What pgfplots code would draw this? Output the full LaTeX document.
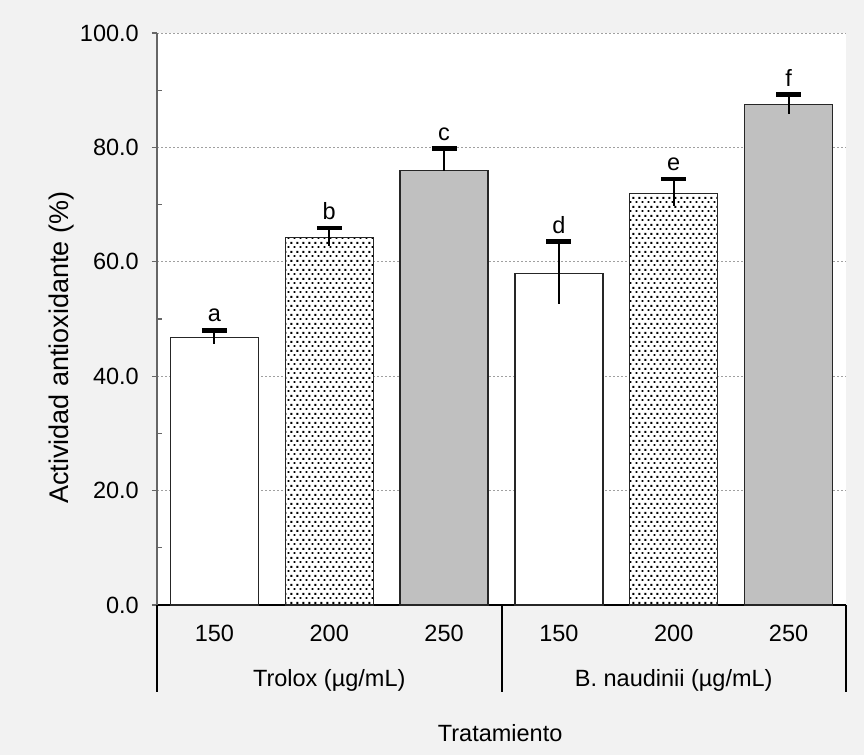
\documentclass[border=0pt]{standalone}
\usepackage{fontspec}
\setmainfont{Liberation Sans}
\usepackage{pgfplots}
\usepackage{pgfplotstable}
\pgfplotsset{compat=1.18}
\usetikzlibrary{patterns.meta}
\definecolor{bgc}{HTML}{F2F2F2}
\definecolor{barg}{HTML}{C0C0C0}
\definecolor{gridc}{HTML}{A0A0A0}
\newcommand\fs{\fontsize{23.5}{28}\selectfont}
\tikzdeclarepattern{
  name=sdots,
  type=uncolored,
  bottom left={(0pt,0pt)},
  top right={(6.4pt,8.6pt)},
  tile size={(6.4pt,8.6pt)},
  code={
    \fill (0.6pt,1.1pt) rectangle (2.6pt,3.1pt);
    \fill (3.8pt,5.4pt) rectangle (5.8pt,7.4pt);
  }
}
\pgfplotstableread{
x y ep em
0 46.7 1.3 1.0
1 64.2 1.7 1.4
2 75.9 3.9 0.0
3 58.0 5.5 5.4
4 72.0 2.5 2.2
5 87.5 1.7 1.7
}\data
\begin{document}
\begin{tikzpicture}
\useasboundingbox (0,0) rectangle (864pt,755pt);
\fill[bgc] (0,0) rectangle (864pt,755pt);
\begin{axis}[
  at={(157pt,150pt)}, anchor=south west,
  scale only axis, width=689pt, height=572pt,
  xmin=-0.5, xmax=5.5, ymin=0, ymax=100,
  axis background/.style={fill=white},
  axis x line*=bottom, axis y line*=left,
  x axis line style={-, black, line width=2pt},
  y axis line style={-, black!60, line width=1.3pt},
  xtick={0,...,5}, xticklabels={150,200,250,150,200,250},
  x tick style={draw=none},
  xticklabel style={font=\fs, anchor=center, yshift=-23pt, inner sep=0pt},
  ytick={0,20,...,100}, minor y tick num=1,
  y tick style={black!60, line width=1.2pt},
  tick align=outside, major tick length=5pt, minor tick length=5pt,
  minor y tick style={xshift=5pt},
  yticklabel style={font=\fs, anchor=east, inner sep=0pt, xshift=-13pt,
    /pgf/number format/fixed, /pgf/number format/fixed zerofill,
    /pgf/number format/precision=1},
  /pgf/number format/assume math mode=true,
  ymajorgrids, grid style={gridc, line width=0.9pt, dash pattern=on 2pt off 2pt},
  ylabel={Actividad antioxidante (\%)},
  ylabel style={font=\fontsize{27}{30}\selectfont, at={(axis description cs:-0.138,0.45)}, anchor=center},
  xlabel={Tratamiento},
  xlabel style={font=\fs, at={(axis description cs:0.498,0)}, anchor=center, yshift=-128pt},
  clip=false,
]
\addplot[ybar, bar width=88pt, bar shift=0pt, fill=white, draw=black!85, line width=1.2pt]
  coordinates {(0,46.7) (3,58.0)};
\addplot[ybar, bar width=88pt, bar shift=0pt, fill=white, draw=black!85, line width=1.2pt,
  postaction={pattern=sdots, pattern color=black}]
  coordinates {(1,64.2) (4,72.0)};
\addplot[ybar, bar width=88pt, bar shift=0pt, fill=barg, draw=black!85, line width=1.2pt]
  coordinates {(2,75.9) (5,87.5)};
\addplot[draw=none, mark=none, forget plot,
  error bars/.cd, y dir=plus, y explicit, error mark=|,
  error mark options={black, line width=4.7pt, mark size=12.5pt},
  error bar style={draw=black, line width=2pt, solid}]
  table[x=x, y=y, y error plus=ep] {\data};
\addplot[draw=none, mark=none, forget plot,
  error bars/.cd, y dir=minus, y explicit, error mark=none,
  error bar style={draw=black, line width=2pt, solid}]
  table[x=x, y=y, y error minus=em] {\data};
\node[font=\fs, anchor=base, inner sep=0pt, yshift=8.5pt] at (axis cs:0,48.0) {a};
\node[font=\fs, anchor=base, inner sep=0pt, yshift=8.5pt] at (axis cs:1,65.9) {b};
\node[font=\fs, anchor=base, inner sep=0pt, yshift=8.5pt] at (axis cs:2,79.8) {c};
\node[font=\fs, anchor=base, inner sep=0pt, yshift=8.5pt] at (axis cs:3,63.5) {d};
\node[font=\fs, anchor=base, inner sep=0pt, yshift=8.5pt] at (axis cs:4,74.5) {e};
\node[font=\fs, anchor=base, inner sep=0pt, yshift=8.5pt] at (axis cs:5,89.2) {f};
\draw[black, line width=2pt] (rel axis cs:0,0) -- ++(0pt,-87pt);
\draw[black, line width=2pt] (rel axis cs:0.5,0) -- ++(0pt,-87pt);
\draw[black, line width=2pt] (rel axis cs:1,0) -- ++(0pt,-87pt);
\node[font=\fs, anchor=center] at (axis cs:1,0) [yshift=-75pt] {Trolox (µg/mL)};
\node[font=\fs, anchor=center] at (axis cs:4,0) [yshift=-75pt] {B. naudinii (µg/mL)};
\end{axis}
\end{tikzpicture}
\end{document}
